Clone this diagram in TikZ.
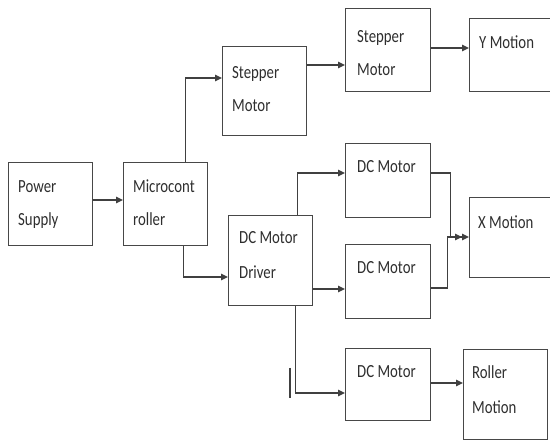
\documentclass[tikz,border=0pt]{standalone}
\usepackage{fontspec}
\setmainfont{Carlito}[FakeStretch=0.8]
\usetikzlibrary{arrows.meta}
\begin{document}
\begin{tikzpicture}[x=1pt,y=-1pt,
  box/.style={draw=black!72, line width=1.4pt, rectangle, inner sep=0pt, anchor=north west},
  lbl/.style={anchor=base west, inner sep=0pt, font=\fontsize{18.5}{20}\selectfont, text=black!82},
  conn/.style={draw=black!75, line width=1.3pt},
  arr/.style={conn, -{Triangle[length=7pt,width=6.5pt]}}]
\useasboundingbox (0,0) rectangle (550,443);
\begin{scope}
\clip (0,0) rectangle (550,443);
% boxes
\node[box, minimum width=84pt, minimum height=83pt] (ps) at (8,162) {};
\node[box, minimum width=84pt, minimum height=83pt] (mc) at (123,162) {};
\node[box, minimum width=84pt, minimum height=89pt] (sm1) at (222,46) {};
\node[box, minimum width=85pt, minimum height=83pt] (sm2) at (345,8) {};
\node[box, minimum width=100pt, minimum height=73pt] (ym) at (469,18) {};
\node[box, minimum width=85pt, minimum height=74pt] (dc1) at (345,143) {};
\node[box, minimum width=84pt, minimum height=90pt] (drv) at (228,215) {};
\node[box, minimum width=100pt, minimum height=80pt] (xm) at (469,197) {};
\node[box, minimum width=85pt, minimum height=74pt] (dc2) at (345,244) {};
\node[box, minimum width=85pt, minimum height=72pt] (dc3) at (345,348) {};
\node[box, minimum width=84pt, minimum height=90pt] (rm) at (463,349) {};
% labels
\node[lbl] (psa) at (18,193) {Power};
\node[lbl] (psb) at (18,226) {Supply};
\node[lbl] (mca) at (133,193) {Microcont};
\node[lbl] (mcb) at (133,226) {roller};
\node[lbl] (sm1a) at (232,79) {Stepper};
\node[lbl] (sm1b) at (232,112) {Motor};
\node[lbl] (sm2a) at (357,43) {Stepper};
\node[lbl] (sm2b) at (357,76) {Motor};
\node[lbl] (yma) at (479,49) {Y Motion};
\node[lbl] (dc1a) at (357,173) {DC Motor};
\node[lbl] (drva) at (239,244) {DC Motor};
\node[lbl] (drvb) at (239,279) {Driver};
\node[lbl] (xma) at (478,229) {X Motion};
\node[lbl] (dc2a) at (357,274) {DC Motor};
\node[lbl] (dc3a) at (357,378) {DC Motor};
\node[lbl] (rma) at (472,379) {Roller};
\node[lbl] (rmb) at (472,414) {Motion};
% connectors
\draw[arr] (ps.east |- 0,200) -- (mc.west |- 0,200);
\draw[arr] ([xshift=20pt]mc.north) |- (sm1.west |- 0,78);
\draw[arr] ([xshift=18pt]mc.south) |- (drv.west |- 0,277);
\draw[arr] (sm1.east |- 0,65) -- (sm2.west |- 0,65);
\draw[arr] (sm2.east |- 0,48) -- (ym.west |- 0,48);
\draw[arr] ([xshift=27pt]drv.north) |- (dc1.west |- 0,173);
\draw[arr] (drv.east |- 0,289) -- (dc2.west |- 0,289);
\draw[arr] ([xshift=25pt]drv.south) |- (dc3.west |- 0,393);
\draw[arr] (dc1.east |- 0,173) -- ++(19,0) |- (xm.west |- 0,237);
\draw[arr, shorten >=7pt] (dc2.east |- 0,288) -- ++(16,0) |- (xm.west |- 0,237);
\draw[arr] (dc3.east |- 0,383) -- (rm.west |- 0,383);
% stray tick
\draw[conn] (290,368) -- (290,398);
\end{scope}
\end{tikzpicture}
\end{document}
